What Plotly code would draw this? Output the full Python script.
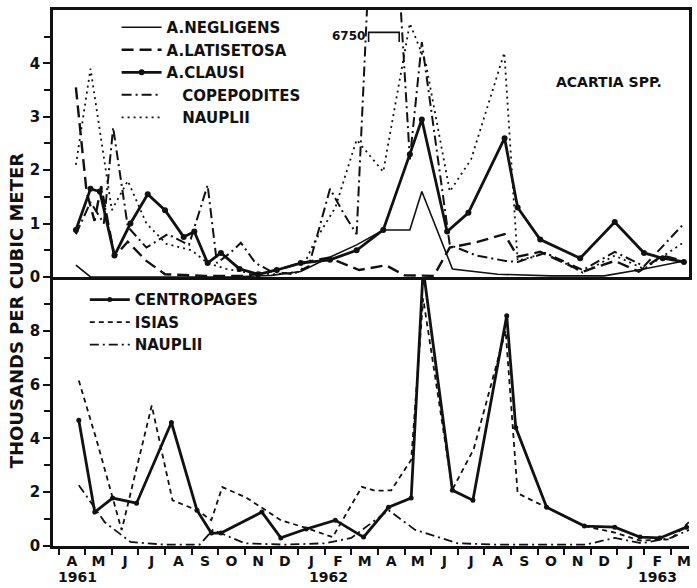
import plotly.graph_objects as go

# Month index 0 = April 1961 ... 23 = March 1963
month_letters = ["A", "M", "J", "J", "A", "S", "O", "N", "D", "J", "F", "M",
                 "A", "M", "J", "J", "A", "S", "O", "N", "D", "J", "F", "M"]
year_labels = ["1961", "1962", "1963"]
year_pos = [0.2, 9.65, 22.0]

# ---- Acartia spp. (thousands per cubic meter) ----
negligens_x = [0.15, 0.7, 2.0, 4.0, 6.0, 7.5, 8.6, 9.65, 10.7, 11.7, 12.7, 13.15, 14.3, 16.0, 18.0, 20.0, 21.5, 23.0]
negligens_y = [0.22, 0.0, 0.0, 0.0, 0.0, 0.03, 0.1, 0.36, 0.6, 0.88, 0.88, 1.6, 0.15, 0.05, 0.02, 0.02, 0.15, 0.3]

latisetosa_x = [0.15, 0.55, 0.85, 1.1, 1.6, 2.1, 2.8, 3.5, 5.0, 6.5, 7.7, 8.6, 9.65, 10.8, 11.8, 12.5, 13.6,
                14.2, 15.2, 16.26, 16.75, 17.6, 19.2, 20.4, 21.3, 22.2, 23.0]
latisetosa_y = [3.55, 1.6, 1.05, 1.7, 0.38, 0.66, 0.3, 0.05, 0.02, 0.02, 0.13, 0.26, 0.36, 0.13, 0.22, 0.03, 0.02,
                0.55, 0.65, 0.8, 0.38, 0.47, 0.1, 0.3, 0.1, 0.4, 0.3]

clausi_x = [0.15, 0.7, 1.05, 1.6, 2.2, 2.85, 3.5, 4.2, 4.6, 5.1, 5.6, 6.3, 7.0, 7.7, 8.6, 9.7, 10.7, 11.7,
            12.7, 13.15, 14.1, 14.9, 16.26, 16.75, 17.6, 19.1, 20.4, 21.5, 22.2, 23.0]
clausi_y = [0.88, 1.65, 1.6, 0.4, 1.0, 1.55, 1.25, 0.75, 0.85, 0.26, 0.45, 0.15, 0.05, 0.13, 0.26, 0.32, 0.5, 0.88,
            2.3, 2.95, 0.85, 1.2, 2.6, 1.3, 0.7, 0.35, 1.03, 0.45, 0.35, 0.28]

copepodites_x = [0.15, 0.7, 1.2, 1.55, 2.1, 2.8, 3.6, 4.4, 5.1, 5.45, 5.95, 6.35, 6.9, 7.5, 8.3, 8.9, 9.7,
                 10.2, 10.7, 11.25, 12.15, 12.7, 13.15, 14.2, 15.2, 16.3, 16.75, 17.8, 19.2, 20.4, 21.5, 23.0]
copepodites_y = [0.8, 1.4, 1.0, 2.8, 0.94, 0.55, 0.8, 0.6, 1.72, 0.26, 0.45, 0.64, 0.26, 0.1, 0.05, 0.2, 1.65,
                 1.2, 0.8, 6.75, 6.75, 2.2, 4.4, 0.6, 0.4, 0.3, 0.28, 0.45, 0.13, 0.47, 0.2, 1.0]

acartia_nauplii_x = [0.15, 0.7, 1.5, 2.1, 2.8, 3.55, 4.5, 5.1, 5.8, 6.6, 7.6, 8.6, 9.1, 9.9, 10.7, 11.7, 12.7,
                     13.3, 14.2, 15.0, 16.25, 16.75, 17.8, 19.2, 20.4, 21.5, 23.0]
acartia_nauplii_y = [2.1, 3.9, 1.25, 1.8, 1.0, 0.62, 0.5, 0.26, 0.15, 0.08, 0.05, 0.1, 0.64, 1.3, 2.57, 1.97, 4.75,
                     4.0, 1.6, 2.2, 4.2, 0.3, 0.45, 0.08, 0.4, 0.15, 0.65]
copepodite_peak = 6750

# ---- Centropages, Isias, nauplii (thousands per cubic meter) ----
centropages_x = [0.26, 0.86, 1.53, 2.43, 3.74, 4.7, 5.24, 5.6, 7.14, 7.85, 8.8, 9.9, 10.96, 11.9, 12.75, 13.2,
                 14.3, 15.07, 16.34, 16.68, 17.84, 19.26, 20.4, 21.35, 22.1, 23.1]
centropages_y = [4.67, 1.26, 1.78, 1.59, 4.59, 1.33, 0.48, 0.48, 1.26, 0.3, 0.63, 0.96, 0.33, 1.44, 1.78, 10.3,
                 2.07, 1.7, 8.56, 4.4, 1.44, 0.74, 0.7, 0.33, 0.3, 0.7]

isias_x = [0.26, 0.93, 1.87, 3.0, 3.78, 4.7, 5.24, 5.65, 6.55, 7.85, 8.8, 9.8, 10.9, 11.4, 12.0, 12.75, 13.2,
           14.3, 15.1, 16.3, 16.75, 17.84, 19.26, 20.4, 21.35, 22.5, 23.2]
isias_y = [6.15, 3.93, 0.59, 5.22, 1.7, 1.33, 0.96, 2.19, 1.8, 0.96, 0.67, 0.33, 2.2, 2.05, 2.07, 3.2, 9.2,
           2.1, 3.6, 8.0, 1.96, 1.44, 0.74, 0.5, 0.2, 0.25, 0.9]

nauplii_x = [0.26, 1.23, 2.2, 3.5, 4.8, 5.3, 6.5, 8.0, 9.5, 10.5, 11.9, 12.9, 14.5, 16.0, 17.5, 19.3, 20.4,
             21.4, 22.5, 23.2]
nauplii_y = [2.26, 0.89, 0.15, 0.05, 0.05, 0.6, 0.1, 0.05, 0.1, 0.3, 1.33, 0.6, 0.1, 0.05, 0.05, 0.05, 0.3,
             0.1, 0.3, 0.6]

FONT = "DejaVu Sans"
INK = "#111111"

fig = go.Figure()


def add_line(x, y, name, dash, width, upper, legend, marker_size=0):
    mode = "lines+markers" if marker_size else "lines"
    fig.add_trace(go.Scatter(
        x=x, y=y, name=name, mode=mode,
        line=dict(color=INK, width=width, dash=dash),
        marker=dict(size=marker_size, color=INK),
        xaxis="x2" if upper else "x", yaxis="y2" if upper else "y",
        legend=legend, hoverinfo="skip",
    ))


# upper panel: Acartia spp.
add_line(negligens_x, negligens_y, "A.NEGLIGENS", "solid", 1.6, True, "legend")
add_line(latisetosa_x, latisetosa_y, "A.LATISETOSA", "12px,6px", 2.4, True, "legend")
add_line(clausi_x, clausi_y, "A.CLAUSI", "solid", 2.8, True, "legend", marker_size=6)
add_line(copepodites_x, copepodites_y, "\u00a0\u00a0\u00a0COPEPODITES",
         "10px,4px,2px,4px", 2.0, True, "legend")
add_line(acartia_nauplii_x, acartia_nauplii_y, "\u00a0\u00a0\u00a0NAUPLII", "2px,4px", 1.8, True, "legend")

# lower panel
add_line(centropages_x, centropages_y, "CENTROPAGES", "solid", 2.8, False, "legend2", marker_size=5)
add_line(isias_x, isias_y, "ISIAS", "5px,4px", 1.8, False, "legend2")
add_line(nauplii_x, nauplii_y, "NAUPLII", "9px,4px,2px,4px", 1.8, False, "legend2")

# bracket marking the off-scale copepodite peak
peak_i = [i for i, v in enumerate(copepodites_y) if round(v * 1000) == copepodite_peak]
bx0 = copepodites_x[peak_i[0]] - 0.1
bx1 = copepodites_x[peak_i[-1]] + 0.15
fig.add_shape(type="path", xref="x2", yref="y2", line=dict(color=INK, width=1.6),
              path=f"M {bx0},4.4 L {bx0},4.58 L {bx1},4.58 L {bx1},4.4")
fig.add_annotation(x=bx0 - 0.05, y=4.52, xref="x2", yref="y2", text=f"{copepodite_peak}",
                   showarrow=False, xanchor="right", yanchor="middle",
                   font=dict(family=FONT, size=12, color=INK, weight="bold"))

fig.add_annotation(x=20.2, y=3.66, xref="x2", yref="y2", text="ACARTIA SPP.", showarrow=False,
                   font=dict(family=FONT, size=14, color=INK, weight="bold"))

for label, pos in zip(year_labels, year_pos):
    fig.add_annotation(x=pos, y=-0.058, xref="x", yref="paper", text=label, showarrow=False,
                       xanchor="center", yanchor="middle",
                       font=dict(family=FONT, size=14, color=INK, weight="bold"))

fig.add_annotation(x=-0.058, y=0.44, xref="paper", yref="paper", text="THOUSANDS PER CUBIC METER",
                   showarrow=False, textangle=-90, xanchor="center", yanchor="middle",
                   font=dict(family=FONT, size=18, color=INK, weight="bold"))

xr = [-0.71, 23.19]
tick_font = dict(family=FONT, size=15, color=INK, weight="bold")

fig.update_layout(
    width=697, height=588,
    margin=dict(l=53, r=5, t=10, b=42),
    paper_bgcolor="white", plot_bgcolor="white",
    font=dict(family=FONT, color=INK),
    xaxis=dict(domain=[0, 1], range=xr, anchor="y", showgrid=False, zeroline=False,
               showline=True, linecolor=INK, linewidth=2.5,
               tickmode="array", tickvals=list(range(24)), ticktext=month_letters,
               ticks="", tickfont=dict(family=FONT, size=14, color=INK, weight="bold"),
               minor=dict(tickmode="linear", tick0=0.5, dtick=1, ticks="outside",
                          ticklen=6, tickwidth=1.5, tickcolor=INK)),
    yaxis=dict(domain=[0, 0.502], range=[0, 10], anchor="x", showgrid=False, zeroline=False,
               showline=True, linecolor=INK, linewidth=2.5,
               tickmode="array", tickvals=[0, 2, 4, 6, 8], ticks="outside", ticklen=7,
               tickwidth=2, tickcolor=INK, tickfont=tick_font,
               minor=dict(tickmode="linear", tick0=1, dtick=2, ticks="outside",
                          ticklen=6, tickwidth=1.5, tickcolor=INK)),
    xaxis2=dict(domain=[0, 1], range=xr, anchor="y2", showgrid=False, zeroline=False,
                showline=True, linecolor=INK, linewidth=2.5, mirror=True,
                showticklabels=False, ticks=""),
    yaxis2=dict(domain=[0.502, 1], range=[0, 5], anchor="x2", showgrid=False, zeroline=False,
                showline=True, linecolor=INK, linewidth=2.5, mirror=True,
                tickmode="array", tickvals=[0, 1, 2, 3, 4], ticks="outside", ticklen=7,
                tickwidth=2, tickcolor=INK, tickfont=tick_font,
                minor=dict(tickmode="linear", tick0=0.5, dtick=1, ticks="outside",
                           ticklen=6, tickwidth=1.5, tickcolor=INK)),
    legend=dict(x=0.1, y=0.998, xanchor="left", yanchor="top", bgcolor="rgba(0,0,0,0)",
                itemwidth=40, tracegroupgap=0,
                font=dict(family=FONT, size=15, color=INK, weight="bold")),
    legend2=dict(x=0.05, y=0.49, xanchor="left", yanchor="top", bgcolor="rgba(0,0,0,0)",
                 itemwidth=40, tracegroupgap=0,
                 font=dict(family=FONT, size=15, color=INK, weight="bold")),
    showlegend=True,
)

fig.write_html("out.html")
